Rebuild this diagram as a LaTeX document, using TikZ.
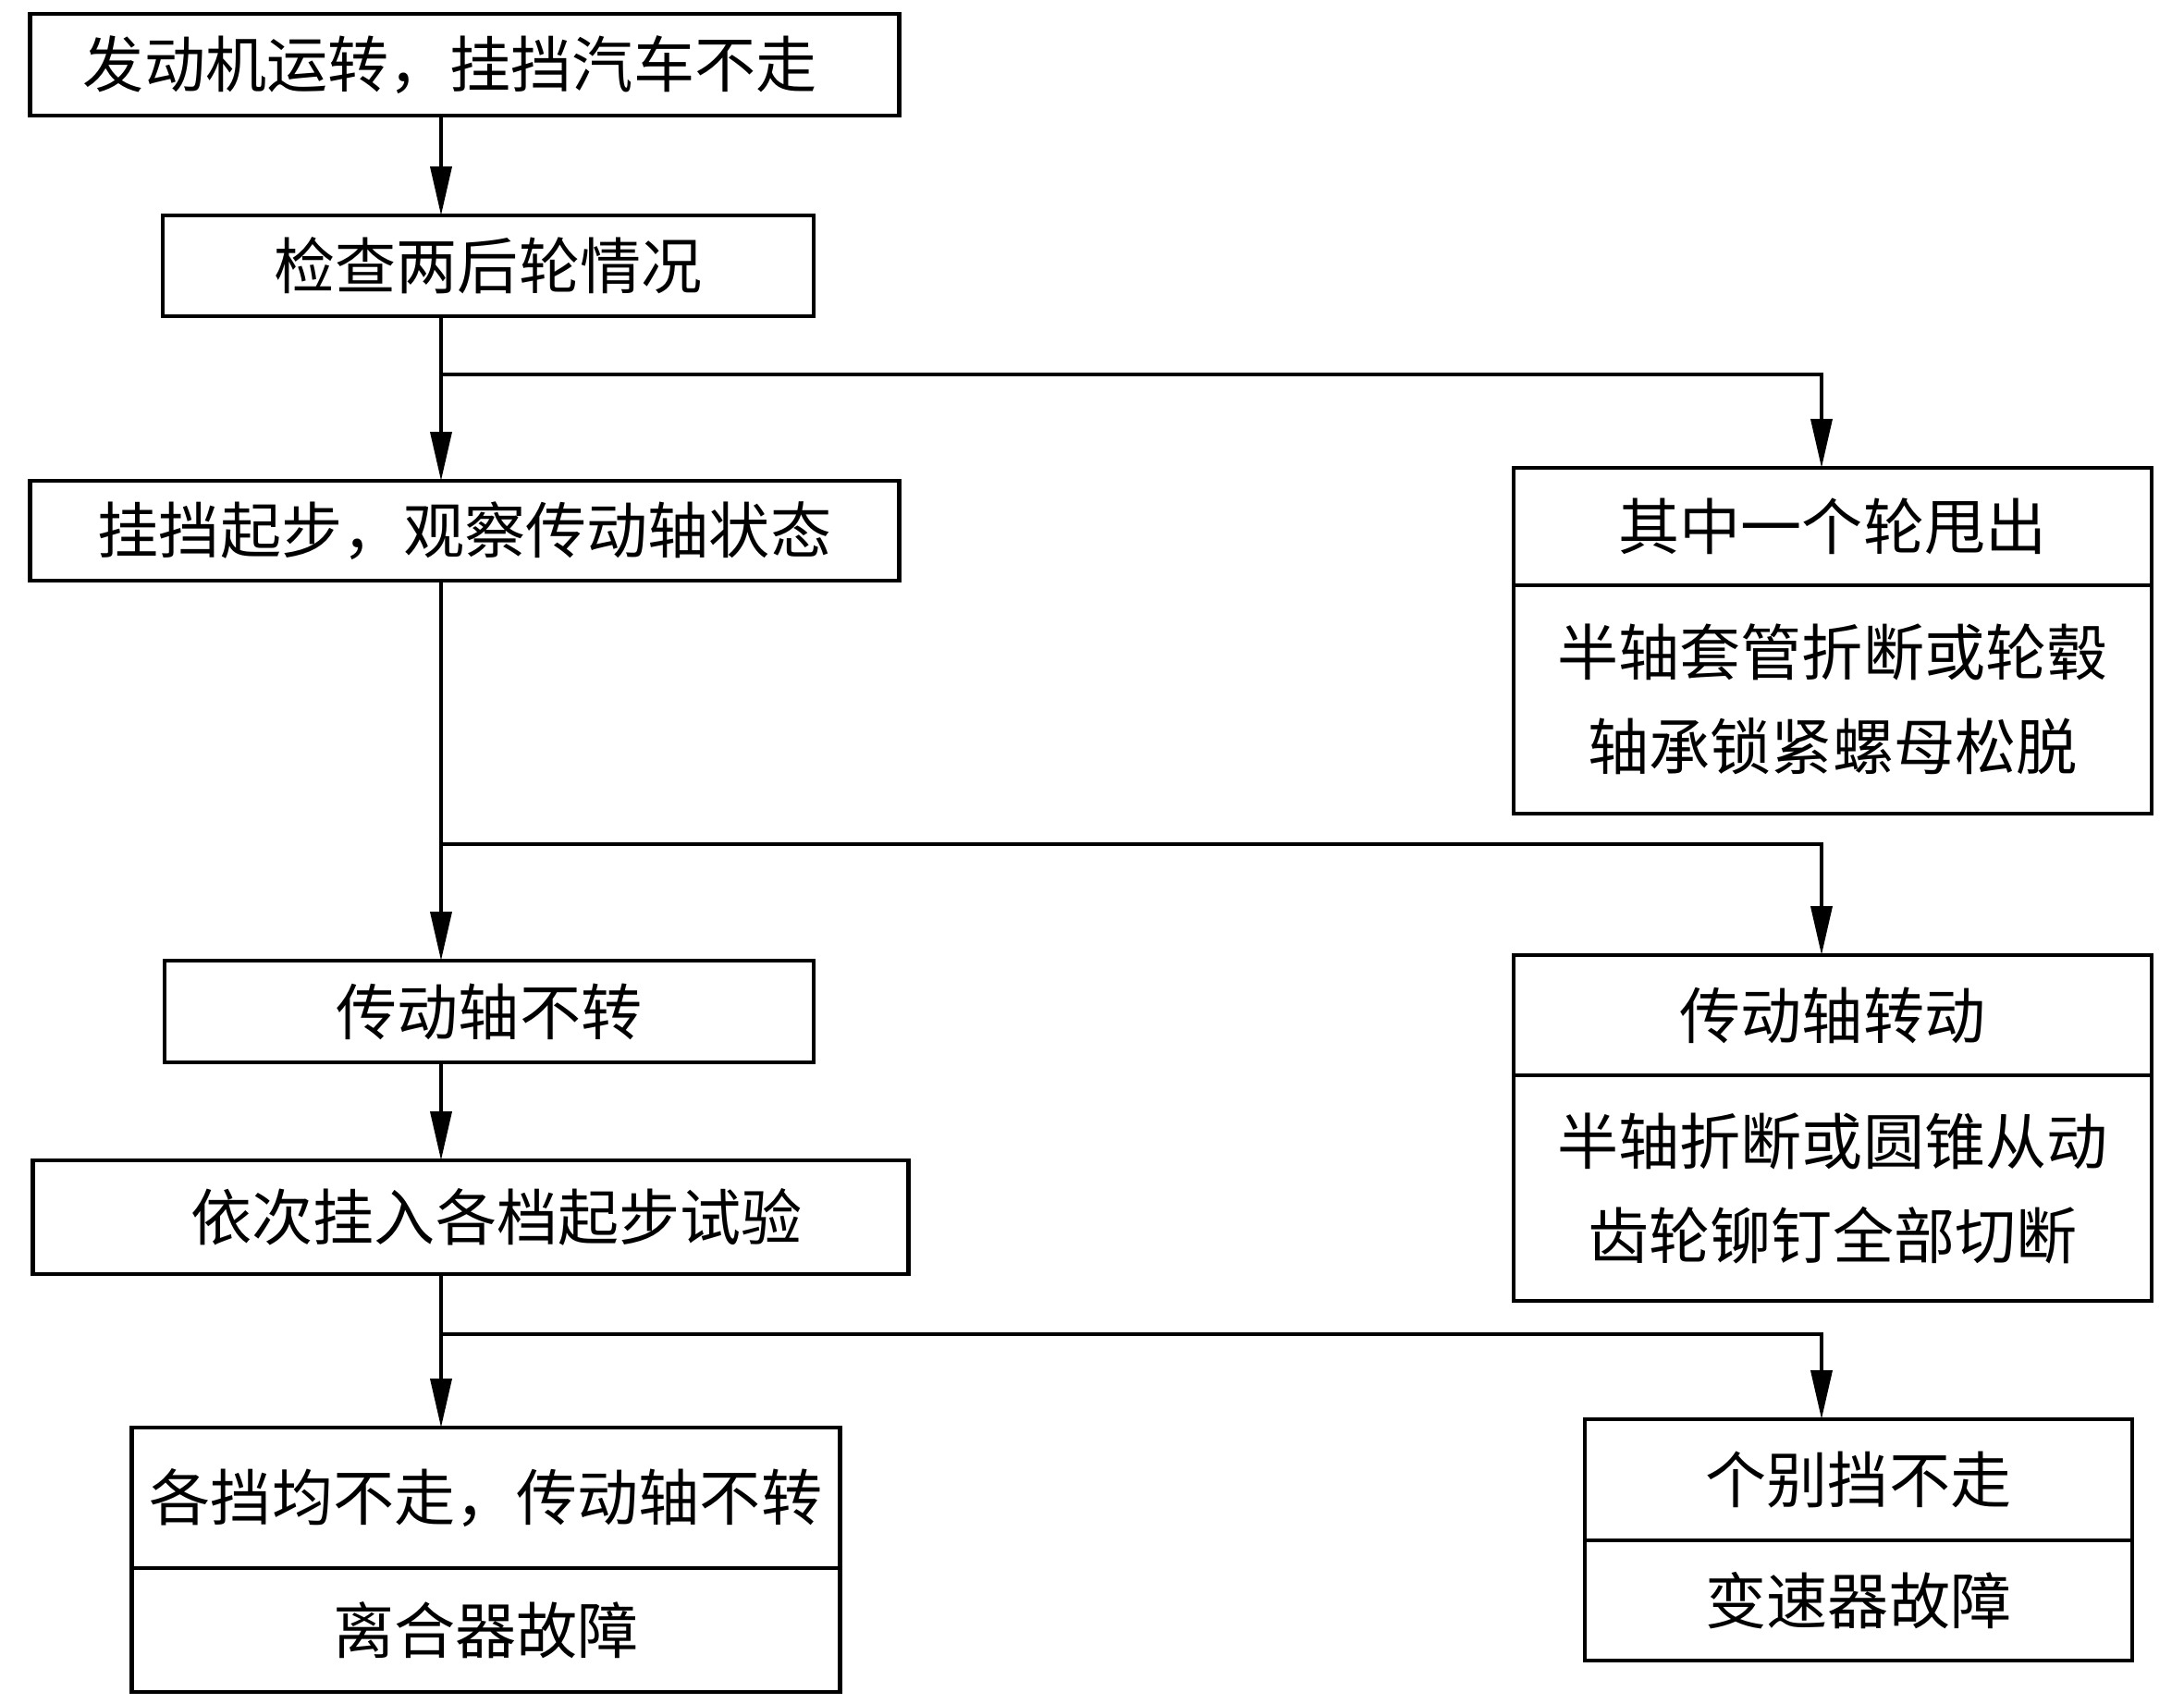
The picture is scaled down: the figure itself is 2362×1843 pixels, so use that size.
\documentclass[tikz,border=0pt]{standalone}
\usepackage{fontspec}
\newfontfamily\cjk{Noto Sans CJK SC}
\usetikzlibrary{positioning,arrows.meta}

\begin{document}
\begin{tikzpicture}[x=0.01cm, y=-0.01cm,
        every node/.style={draw, line width=1.3pt, outer sep=0pt, inner sep=0pt, align=center,
          font=\cjk\fontsize{18.8pt}{29pt}\selectfont},
        link/.style={line width=1.1pt},
        arr/.style={link, -{Triangle[length=15pt, width=6.5pt]}}]

    \useasboundingbox (0,0) rectangle (2362,1843);

    % Main column
    \node[minimum width=9.39cm, minimum height=1.10cm] (start) at (502.5,70) {\hspace*{-9pt}发动机运转，挂挡汽车不走};
    \node[minimum width=7.04cm, minimum height=1.09cm] (check) at (528,287.5) {检查两后轮情况};
    \node[minimum width=9.39cm, minimum height=1.08cm] (launch) at (502.5,574) {挂挡起步，观察传动轴状态};
    \node[minimum width=7.02cm, minimum height=1.10cm] (still) at (529,1094) {传动轴不转};
    \node[minimum width=9.46cm, minimum height=1.23cm] (gears) at (509,1316.5) {\hspace*{16pt}依次挂入各档起步试验};
    \node[minimum width=7.65cm, minimum height=1.52cm] (allg) at (525.5,1620) {各挡均不走，传动轴不转};
    \node[minimum width=7.65cm, minimum height=1.34cm, below=0pt of allg] (allgr) {离合器故障};

    % Right column
    \node[minimum width=6.90cm, minimum height=1.27cm] (wheel) at (1982,569.5) {其中一个轮甩出};
    \node[minimum width=6.90cm, minimum height=2.47cm, below=0pt of wheel] (wheelr) {半轴套管折断或轮毂\\轴承锁紧螺母松脱};
    \node[minimum width=6.90cm, minimum height=1.30cm] (spin) at (1982,1098) {传动轴转动};
    \node[minimum width=6.90cm, minimum height=2.44cm, below=0pt of spin] (spinr) {半轴折断或圆锥从动\\齿轮铆钉全部切断};
    \node[minimum width=5.92cm, minimum height=1.31cm] (onegear) at (2010,1600.5) {个别挡不走};
    \node[minimum width=5.92cm, minimum height=1.30cm, below=0pt of onegear] (onegearr) {变速器故障};

    % Trunk and branches
    \coordinate (tk) at (477,0);
    \coordinate (rk) at (1970,0);
    \coordinate (fork1) at (477,405);
    \coordinate (fork2) at (477,913);
    \coordinate (fork3) at (477,1443);

    \draw[arr] (start.south -| tk) -- (check.north -| tk);
    \draw[arr] (check.south -| tk) -- (launch.north -| tk);
    \draw[arr] (launch.south -| tk) -- (still.north -| tk);
    \draw[arr] (still.south -| tk) -- (gears.north -| tk);
    \draw[arr] (gears.south -| tk) -- (allg.north -| tk);

    \draw[arr] (fork1) -| (wheel.north -| rk);
    \draw[arr] (fork2) -| (spin.north -| rk);
    \draw[arr] (fork3) -| (onegear.north -| rk);
\end{tikzpicture}
\end{document}
